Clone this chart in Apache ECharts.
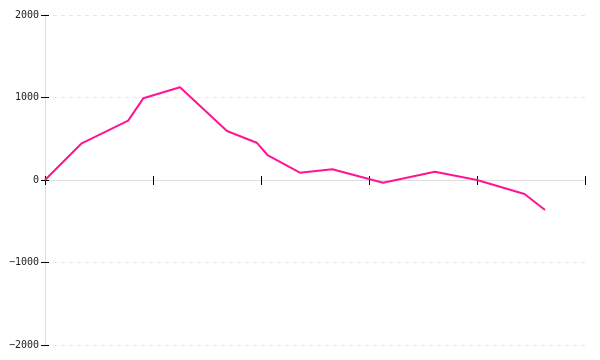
<!DOCTYPE html>
<html>
<head>
<meta charset="utf-8">
<script src="https://cdn.jsdelivr.net/npm/echarts@6/dist/echarts.min.js"></script>
<style>html,body{margin:0;padding:0;background:#fff}#c{width:600px;height:360px}</style>
</head>
<body>
<div id="c"></div>
<script>
const xVals = [0, 3.4, 7.7, 9.1, 12.5, 16.85, 19.6, 20.6, 23.6, 26.6, 31.3, 36.1, 40.0, 44.4, 46.3];
const yVals = [0, 445, 719, 990, 1124, 594, 452, 303, 88, 130, -33, 100, 0, -170, -364];
const yTickValues = [-2000, -1000, 0, 1000, 2000];
const xTickValues = [0, 10, 20, 30, 40, 50];

const lineColor = '#ff1493';
const data = xVals.map((x, i) => [x, yVals[i]]);

const chart = echarts.init(document.getElementById('c'));
const baseX = {
  type: 'value', min: xTickValues[0], max: xTickValues[xTickValues.length - 1],
  interval: xTickValues[1] - xTickValues[0], position: 'bottom',
  axisLine: { show: true, onZero: true, lineStyle: { color: '#ddd', width: 1 } },
  axisLabel: { show: false }, splitLine: { show: false }
};
const baseY = {
  type: 'value', min: yTickValues[0], max: yTickValues[yTickValues.length - 1],
  interval: yTickValues[1] - yTickValues[0], position: 'left'
};
chart.setOption({
  animation: false,
  grid: { left: 45, right: 15, top: 15, bottom: 15 },
  xAxis: [
    Object.assign({}, baseX, { axisTick: { show: true, inside: false, length: 5, lineStyle: { color: '#000' } } }),
    Object.assign({}, baseX, { axisTick: { show: true, inside: true, length: 4, lineStyle: { color: '#000' } } })
  ],
  yAxis: [
    Object.assign({}, baseY, {
      axisLine: { show: true, onZero: false, lineStyle: { color: '#ddd' } },
      axisTick: { show: true, inside: false, length: 4, lineStyle: { color: '#000' } },
      axisLabel: { show: true, margin: 6, fontFamily: 'DejaVu Sans Mono', fontSize: 10, color: '#222',
        formatter: v => String(v).replace('-', '\u2212') },
      splitLine: { show: true, lineStyle: { color: '#e6e6e6', type: [4, 4] } }
    }),
    Object.assign({}, baseY, {
      axisLine: { show: false, onZero: false },
      axisTick: { show: true, inside: true, length: 4, lineStyle: { color: '#000' } },
      axisLabel: { show: false }, splitLine: { show: false }
    })
  ],
  series: [{
    type: 'line', xAxisIndex: 0, yAxisIndex: 0, data: data,
    showSymbol: false, symbol: 'none',
    lineStyle: { color: lineColor, width: 2 }
  }]
});
</script>
</body>
</html>
